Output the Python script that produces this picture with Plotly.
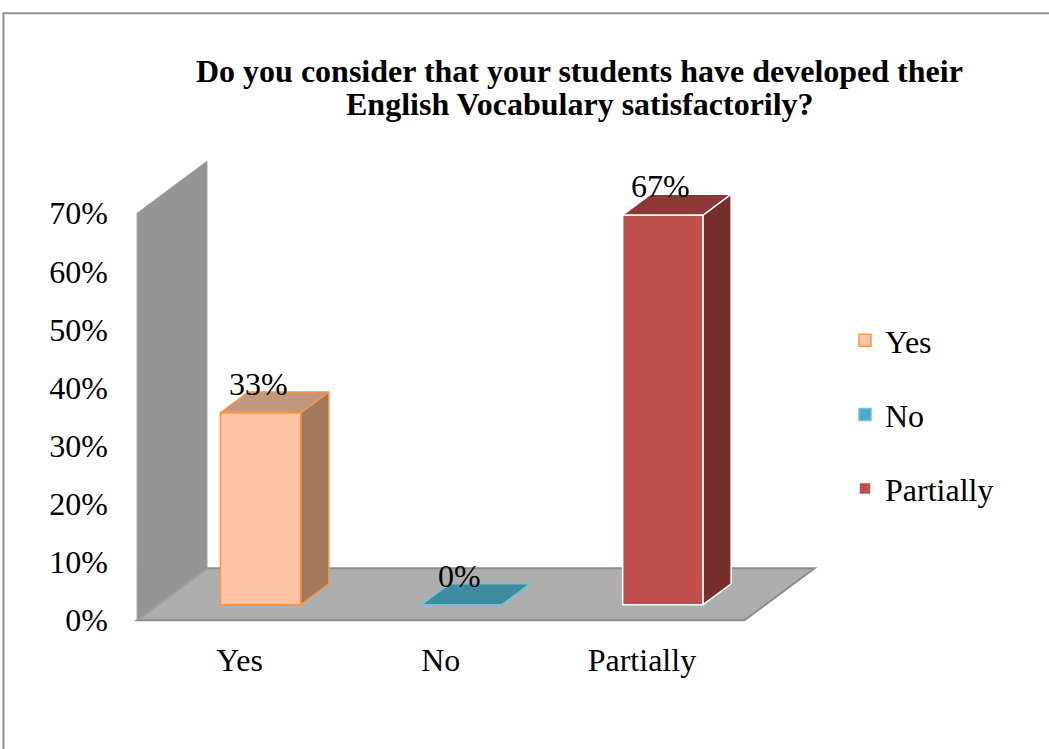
import plotly.graph_objects as go

# Survey answers (percent of respondents)
categories = ["Yes", "No", "Partially"]
values = [33, 0, 67]
y_ticks = [0, 10, 20, 30, 40, 50, 60, 70]
y_tick_text = [f"{t}%" for t in y_ticks]
title_lines = ["Do you consider that your students have developed their",
               "English Vocabulary satisfactorily?"]

front_colors = ["#FCC4A2", "#4BACC6", "#C0504D"]
top_colors = ["#C1977E", "#3F8B9F", "#8C3836"]
side_colors = ["#A3795D", "#2F6E80", "#772F2E"]
edge_colors = ["#F79646", "#6FC3DA", "#FFFFFF"]

FONT = "Liberation Serif, Times New Roman, serif"
FS = 32

# 3-D projection of the depth axis, in data units
DEPTH_X = 0.348
DEPTH_Y = 8.95
BAR_FRONT = 0.30   # fraction of floor depth where the bar front sits
BAR_BACK = 0.70
BAR_WIDTH = 0.40
FLOOR_LEFT, FLOOR_RIGHT = -0.51, 2.51
WALL_TOP = 70

# plot-area geometry (pixels)
W, H = 1049, 749
X_RANGE = [-0.53, 2.95]
Y_RANGE = [-1.5, 80]
PX_X = 201.0
PX_Y = 5.807
LEFT = 240 + X_RANGE[0] * PX_X
BOTTOM_PX = 620 - Y_RANGE[0] * PX_Y
TOP_PX = 620 - Y_RANGE[1] * PX_Y
plot_w = (X_RANGE[1] - X_RANGE[0]) * PX_X
plot_h = BOTTOM_PX - TOP_PX


def paper_y(px):
    return (BOTTOM_PX - px) / plot_h


def paper_x(px):
    return (px - LEFT) / plot_w


fig = go.Figure()

fx0, fy0 = BAR_FRONT * DEPTH_X, BAR_FRONT * DEPTH_Y
ddx, ddy = (BAR_BACK - BAR_FRONT) * DEPTH_X, (BAR_BACK - BAR_FRONT) * DEPTH_Y

# front faces as real bars
for i, (cat, v) in enumerate(zip(categories, values)):
    fig.add_trace(go.Bar(
        x=[i + fx0], y=[v], base=[fy0], width=[BAR_WIDTH], name=cat,
        marker=dict(color=front_colors[i], line=dict(color=edge_colors[i], width=1.5)),
        legendgroup=cat, showlegend=True, hoverinfo="skip",
    ))

# top and side faces of each column
for i, v in enumerate(values):
    xl = i + fx0 - BAR_WIDTH / 2
    xr = i + fx0 + BAR_WIDTH / 2
    b = fy0
    t = fy0 + v
    fig.add_trace(go.Scatter(
        x=[xr, xr, xr + ddx, xr + ddx, xr], y=[b, t, t + ddy, b + ddy, b],
        mode="lines", fill="toself", fillcolor=side_colors[i],
        line=dict(color=edge_colors[i], width=1.5), showlegend=False, hoverinfo="skip",
    ))
    fig.add_trace(go.Scatter(
        x=[xl, xr, xr + ddx, xl + ddx, xl], y=[t, t, t + ddy, t + ddy, t],
        mode="lines", fill="toself", fillcolor=top_colors[i],
        line=dict(color=edge_colors[i], width=1.5), showlegend=False, hoverinfo="skip",
    ))
    fig.add_annotation(
        x=i + fx0, y=t, text=f"{v}%", showarrow=False, yshift=29, xshift=-2,
        font=dict(family=FONT, size=FS, color="black"),
    )

# back wall and floor
wall = (f"M {FLOOR_LEFT},0 L {FLOOR_LEFT},{WALL_TOP} "
        f"L {FLOOR_LEFT + DEPTH_X},{WALL_TOP + DEPTH_Y} L {FLOOR_LEFT + DEPTH_X},{DEPTH_Y} Z")
floor = (f"M {FLOOR_LEFT},0 L {FLOOR_RIGHT},0 L {FLOOR_RIGHT + DEPTH_X},{DEPTH_Y} "
         f"L {FLOOR_LEFT + DEPTH_X},{DEPTH_Y} Z")
fig.add_shape(type="path", path=floor, xref="x", yref="y", layer="below",
              fillcolor="#AEAEAE", line=dict(color="#8E8E8E", width=2))
fig.add_shape(type="path", path=wall, xref="x", yref="y", layer="below",
              fillcolor="#959595", line=dict(color="#A8A8A8", width=1))

# chart frame
fig.add_shape(type="rect", xref="paper", yref="paper",
              x0=paper_x(4), x1=paper_x(1060), y0=paper_y(760), y1=paper_y(14),
              line=dict(color="#8F8F8F", width=2), fillcolor="rgba(0,0,0,0)", layer="below")

# two-line bold title
for line, py in zip(title_lines, [72, 105]):
    fig.add_annotation(
        xref="paper", yref="paper", x=paper_x(580), y=paper_y(py),
        xanchor="center", yanchor="middle", showarrow=False, text=f"<b>{line}</b>",
        font=dict(family=FONT, size=FS, color="black"),
    )

fig.update_layout(
    width=W, height=H,
    margin=dict(l=LEFT, r=W - LEFT - plot_w, t=TOP_PX, b=H - BOTTOM_PX, pad=0),
    paper_bgcolor="white", plot_bgcolor="rgba(0,0,0,0)",
    barmode="overlay",
    xaxis=dict(range=X_RANGE, tickvals=list(range(len(categories))), ticktext=categories,
               showgrid=False, zeroline=False, showline=False, ticks="",
               ticklabelstandoff=9, tickfont=dict(family=FONT, size=FS, color="black"),
               fixedrange=True),
    yaxis=dict(range=Y_RANGE, tickvals=y_ticks, ticktext=y_tick_text,
               showgrid=False, zeroline=False, showline=False, ticks="",
               ticklabelstandoff=24, tickfont=dict(family=FONT, size=FS, color="black"),
               fixedrange=True),
    legend=dict(xref="container", yref="container", x=845 / W, y=1 - 313 / H,
                xanchor="left", yanchor="top", tracegroupgap=29.5,
                font=dict(family=FONT, size=FS, color="black"),
                bgcolor="rgba(0,0,0,0)", itemwidth=30),
    showlegend=True,
)

fig.write_html("out.html")
